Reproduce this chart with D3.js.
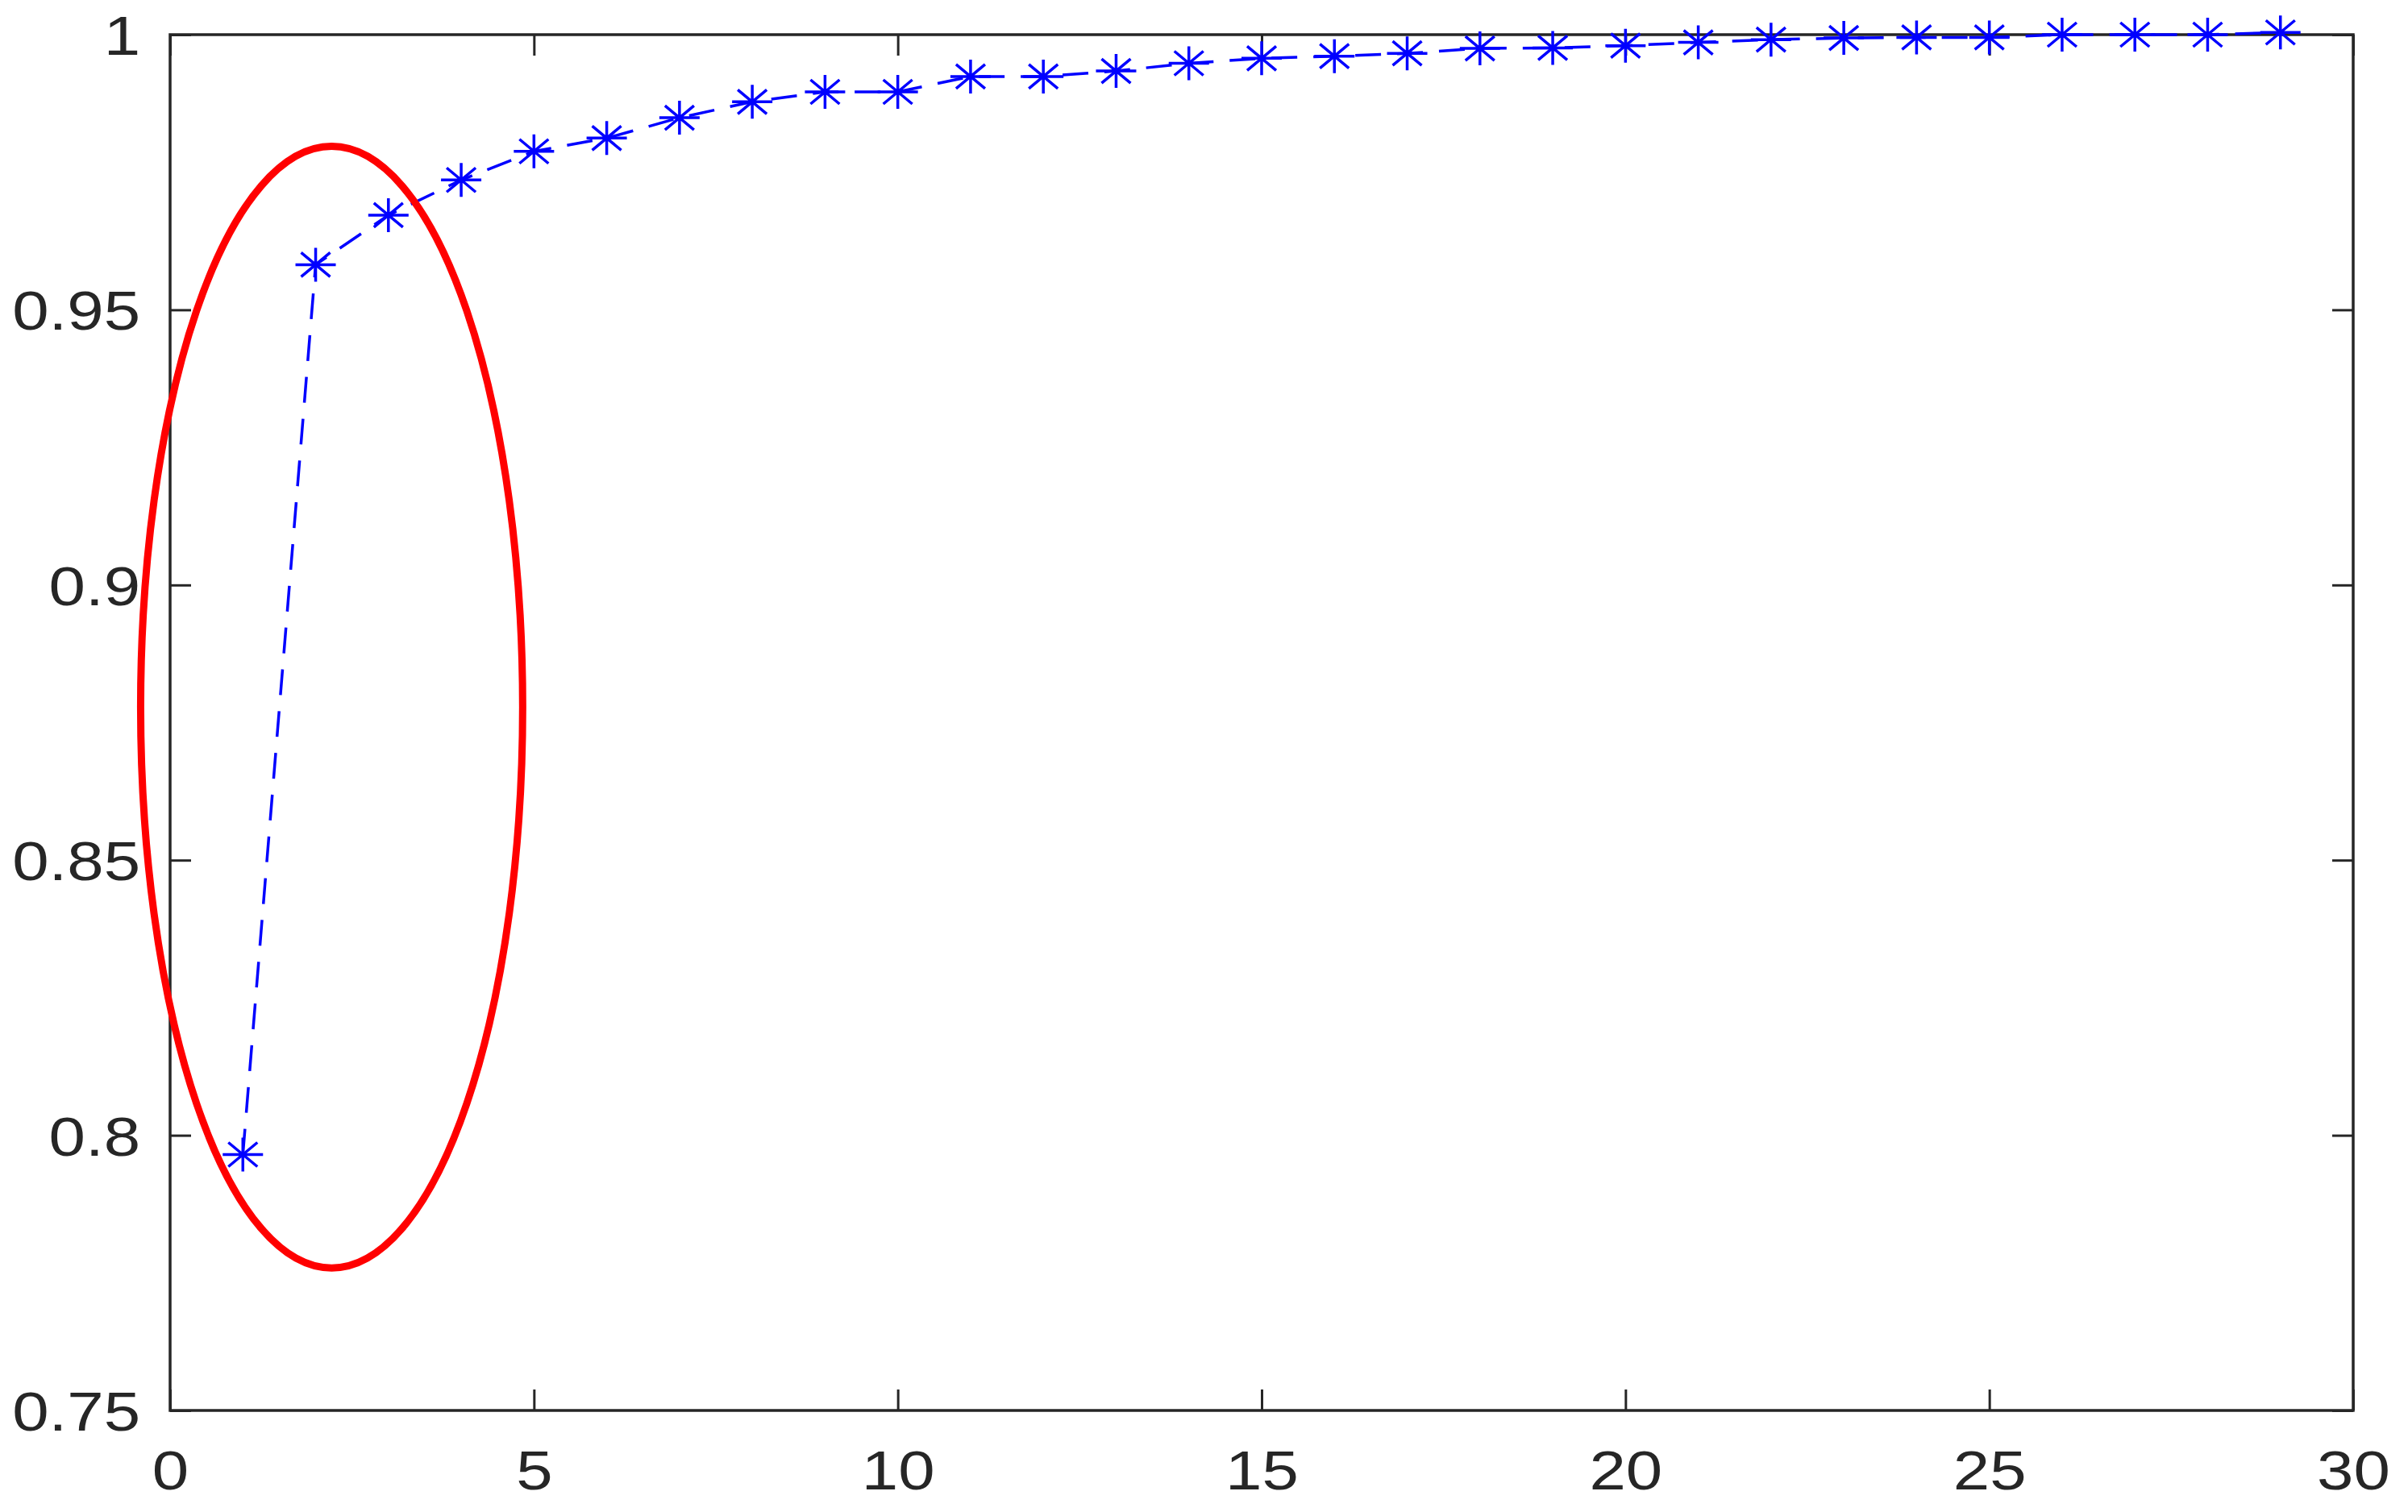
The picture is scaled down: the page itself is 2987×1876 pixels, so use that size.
<!DOCTYPE html>
<html>
<head>
<meta charset="utf-8">
<script src="https://cdn.jsdelivr.net/npm/d3@7/dist/d3.min.js"></script>
<style>
    body { margin: 0; background: #fff; }
</style>
</head>
<body>
<svg id="chart"></svg>
<script>
// number of components vs cumulative contribution
const components = [1, 2, 3, 4, 5, 6, 7, 8, 9, 10, 11, 12, 13, 14, 15, 16, 17, 18, 19, 20, 21, 22, 23, 24, 25, 26, 27, 28, 29];
const cumulative = [0.7965, 0.9582, 0.9672, 0.9736, 0.9788, 0.9812, 0.9849, 0.9878, 0.9896, 0.9896,
    0.9924, 0.9924, 0.9934, 0.9948, 0.9957, 0.9961, 0.9966, 0.9975, 0.9976, 0.9980,
    0.9986, 0.9991, 0.9994, 0.9995, 0.9995, 1.0000, 1.0000, 1.0000, 1.0004];

const xTicks = [0, 5, 10, 15, 20, 25, 30];
const xTickLabels = ["0", "5", "10", "15", "20", "25", "30"];
const yTicks = [0.75, 0.8, 0.85, 0.9, 0.95, 1];
const yTickLabels = ["0.75", "0.8", "0.85", "0.9", "0.95", "1"];

// red highlight ellipse, in data units
const highlightCenter = [2.22, 0.8778];
const highlightRadius = [2.625, 0.1019];

const width = 2987;
const height = 1876;
const plot = {left: 211, right: 2919, top: 43, bottom: 1750};
const axisColor = "#262626";
const stretch = 1.2; // text in the source is a bit wider than tall

const svg = d3.select("#chart")
    .attr("width", width)
    .attr("height", height);

const x = d3.scaleLinear().domain([0, 30]).range([plot.left, plot.right]);
const y = d3.scaleLinear().domain([0.75, 1]).range([plot.bottom, plot.top]);

function styleAxis(g) {
    g.select(".domain").remove();
    g.selectAll(".tick line")
        .attr("stroke", axisColor)
        .attr("stroke-width", 3);
    g.selectAll(".tick text")
        .attr("fill", axisColor)
        .style("font-family", "'Liberation Sans', Arial, Helvetica, sans-serif")
        .style("font-size", "68px");
}

// bottom axis with labels
svg.append("g")
    .attr("transform", `translate(0,${plot.bottom})`)
    .call(d3.axisBottom(x)
        .tickValues(xTicks)
        .tickFormat((d, i) => xTickLabels[i])
        .tickSizeInner(-26)
        .tickSizeOuter(0))
    .call(styleAxis)
    .call(g => g.selectAll(".tick text")
        .attr("y", 98)
        .attr("dy", 0)
        .attr("transform", `scale(${stretch},1)`));

// left axis with labels
svg.append("g")
    .attr("transform", `translate(${plot.left},0)`)
    .call(d3.axisLeft(y)
        .tickValues(yTicks)
        .tickFormat((d, i) => yTickLabels[i])
        .tickSizeInner(-26)
        .tickSizeOuter(0))
    .call(styleAxis)
    .call(g => g.selectAll(".tick text")
        .attr("x", -37 / stretch)
        .attr("dy", "0.36em")
        .attr("transform", `scale(${stretch},1)`));

// mirrored ticks on top and right, no labels
svg.append("g")
    .attr("transform", `translate(0,${plot.top})`)
    .call(d3.axisTop(x).tickValues(xTicks).tickFormat("").tickSizeInner(-26).tickSizeOuter(0))
    .call(styleAxis);

svg.append("g")
    .attr("transform", `translate(${plot.right},0)`)
    .call(d3.axisRight(y).tickValues(yTicks).tickFormat("").tickSizeInner(-26).tickSizeOuter(0))
    .call(styleAxis);

// box
svg.append("rect")
    .attr("x", plot.left)
    .attr("y", plot.top)
    .attr("width", plot.right - plot.left)
    .attr("height", plot.bottom - plot.top)
    .attr("fill", "none")
    .attr("stroke", axisColor)
    .attr("stroke-width", 3.5);

const points = components.map((c, i) => ({x: c, y: cumulative[i]}));

// dashed series line
svg.append("path")
    .datum(points)
    .attr("fill", "none")
    .attr("stroke", "#0000ff")
    .attr("stroke-width", 3.5)
    .attr("stroke-dasharray", "32,20")
    .attr("d", d3.line().x(d => x(d.x)).y(d => y(d.y)));

// asterisk markers
const star = "M-25,0H25M0,-21V21M-18,-15L18,15M-18,15L18,-15";
svg.append("g")
    .selectAll("path")
    .data(points)
    .enter()
    .append("path")
    .attr("transform", d => `translate(${x(d.x)},${y(d.y)})`)
    .attr("d", star)
    .attr("fill", "none")
    .attr("stroke", "#0000ff")
    .attr("stroke-width", 3.5);

// highlight ellipse
svg.append("ellipse")
    .attr("cx", x(highlightCenter[0]))
    .attr("cy", y(highlightCenter[1]))
    .attr("rx", x(highlightCenter[0] + highlightRadius[0]) - x(highlightCenter[0]))
    .attr("ry", y(highlightCenter[1] - highlightRadius[1]) - y(highlightCenter[1]))
    .attr("fill", "none")
    .attr("stroke", "#ff0000")
    .attr("stroke-width", 9);
</script>
</body>
</html>
